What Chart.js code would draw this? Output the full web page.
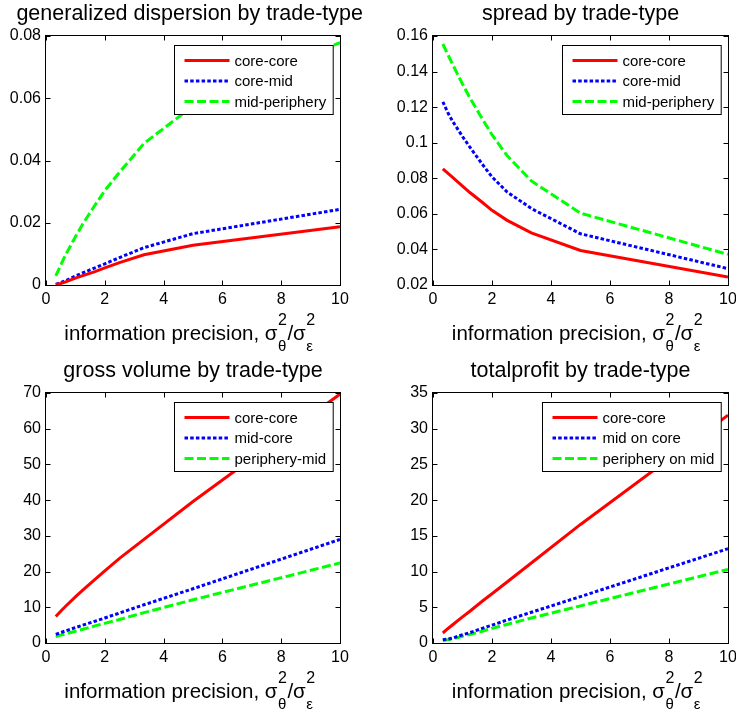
<!DOCTYPE html>
<html><head><meta charset="utf-8">
<script src="https://cdn.jsdelivr.net/npm/chart.js@4"></script>
<style>
html,body{margin:0;padding:0;background:#fff;}
#wrap{position:relative;width:736px;height:719px;overflow:hidden;}
canvas{position:absolute;}
</style></head><body>
<div id="wrap">
<canvas id="c1" width="368" height="360" style="left:0;top:0"></canvas>
<canvas id="c2" width="368" height="360" style="left:368px;top:0"></canvas>
<canvas id="c3" width="368" height="359" style="left:0;top:360px"></canvas>
<canvas id="c4" width="368" height="359" style="left:368px;top:360px"></canvas>
</div>
<script>
// ---- data ----
const xValues = [0.333, 0.5, 0.667, 1, 1.25, 1.667, 2, 2.5, 3.333, 5, 10];
const xTicks = [0, 2, 4, 6, 8, 10];

const dispersionTitle = 'generalized dispersion by trade-type';
const dispersionLabels = ['core-core', 'core-mid', 'mid-periphery'];
const dispCoreCore = [0.0001, 0.0005, 0.0010, 0.0022, 0.0030, 0.0043, 0.0055, 0.0072, 0.0097, 0.0128, 0.0187];
const dispCoreMid = [0.0002, 0.0008, 0.0014, 0.0029, 0.0039, 0.0055, 0.0068, 0.0088, 0.0120, 0.0165, 0.0243];
const dispMidPeriphery = [0.0029, 0.0064, 0.0097, 0.0155, 0.0196, 0.0257, 0.0303, 0.0362, 0.0455, 0.0575, 0.0779];
const dispTicks = [0, 0.02, 0.04, 0.06, 0.08];

const spreadTitle = 'spread by trade-type';
const spreadLabels = ['core-core', 'core-mid', 'mid-periphery'];
const spreadCoreCore = [0.0853, 0.0829, 0.0805, 0.0756, 0.0720, 0.0665, 0.0620, 0.0565, 0.0493, 0.0394, 0.0245];
const spreadCoreMid = [0.1230, 0.1170, 0.1120, 0.1035, 0.0975, 0.0880, 0.0808, 0.0725, 0.0630, 0.0488, 0.0292];
const spreadMidPeriphery = [0.1555, 0.1497, 0.1440, 0.1330, 0.1252, 0.1135, 0.1045, 0.0930, 0.0785, 0.0604, 0.0372];
const spreadTicks = [0.02, 0.04, 0.06, 0.08, 0.1, 0.12, 0.14, 0.16];

const volumeTitle = 'gross volume by trade-type';
const volumeLabels = ['core-core', 'mid-core', 'periphery-mid'];
const volCoreCore = [7.4, 8.9, 10.3, 12.9, 14.8, 17.8, 20.2, 23.7, 29.0, 39.6, 69.7];
const volMidCore = [2.4, 2.9, 3.4, 4.3, 5.0, 6.1, 7.0, 8.4, 10.7, 15.2, 29.0];
const volPeripheryMid = [1.8, 2.2, 2.55, 3.3, 3.85, 4.8, 5.5, 6.6, 8.5, 12.1, 22.4];
const volumeTicks = [0, 10, 20, 30, 40, 50, 60, 70];

const profitTitle = 'totalprofit by trade-type';
const profitLabels = ['core-core', 'mid on core', 'periphery on mid'];
const profCoreCore = [1.4, 2.0, 2.55, 3.65, 4.45, 5.85, 6.9, 8.5, 11.2, 16.6, 31.9];
const profMidCore = [0.45, 0.55, 0.7, 1.15, 1.45, 2.05, 2.5, 3.2, 4.3, 6.5, 13.2];
const profPeripheryMid = [0.35, 0.45, 0.58, 0.95, 1.2, 1.65, 2.05, 2.6, 3.5, 5.2, 10.3];
const profitTicks = [0, 5, 10, 15, 20, 25, 30, 35];

// ---- styling ----
const FONT = '"Liberation Sans", Arial, Helvetica, sans-serif';
const seriesStyles = [
  { color: '#ff0000', dash: [] },
  { color: '#0000ff', dash: [3.5, 2.2] },
  { color: '#00ff00', dash: [9, 3.5] }
];

function fmt(v) { return String(parseFloat(Number(v).toFixed(6))); }

const decorPlugin = {
  id: 'matlabDecor',
  afterDraw(chart) {
    const o = chart.options.plugins.matlabDecor;
    const ctx = chart.ctx, a = chart.chartArea;
    const xs = chart.scales.x, ys = chart.scales.y;
    ctx.save();
    // frame
    ctx.setLineDash([]);
    ctx.strokeStyle = '#000';
    ctx.lineWidth = 1;
    const L = Math.floor(a.left) - 0.5, R = Math.round(a.right) + 0.5;
    const T = Math.floor(a.top) - 0.5, B = Math.round(a.bottom) + 0.5;
    ctx.strokeRect(L, T, R - L, B - T);
    // inward ticks
    ctx.beginPath();
    xs.ticks.forEach(t => {
      const px = Math.round(xs.getPixelForValue(t.value)) + 0.5;
      ctx.moveTo(px, B); ctx.lineTo(px, B - 5);
      ctx.moveTo(px, T); ctx.lineTo(px, T + 5);
    });
    ys.ticks.forEach(t => {
      const py = Math.round(ys.getPixelForValue(t.value)) + 0.5;
      ctx.moveTo(L, py); ctx.lineTo(L + 5, py);
      ctx.moveTo(R, py); ctx.lineTo(R - 5, py);
    });
    ctx.stroke();

    // legend
    const ds = chart.data.datasets;
    ctx.font = '15px ' + FONT;
    const tw = Math.max(...ds.map(d => ctx.measureText(d.label).width));
    const bw = 10 + 45 + 5 + tw + 7;
    const bh = 69;
    const bx = Math.round(a.right - 7 - bw) + 0.5;
    const by = Math.round(a.top + 8.5) + 0.5;
    ctx.fillStyle = '#fff';
    ctx.fillRect(bx, by, bw, bh);
    ctx.strokeStyle = '#000';
    ctx.lineWidth = 1;
    ctx.strokeRect(bx, by, bw, bh);
    ds.forEach((d, i) => {
      const cy = by + 15 + i * 20.5;
      ctx.beginPath();
      ctx.strokeStyle = d.borderColor;
      ctx.lineWidth = d.borderWidth;
      ctx.setLineDash(d.borderDash || []);
      ctx.moveTo(bx + 10, cy);
      ctx.lineTo(bx + 55, cy);
      ctx.stroke();
      ctx.setLineDash([]);
      ctx.fillStyle = '#000';
      ctx.textAlign = 'left';
      ctx.textBaseline = 'middle';
      ctx.fillText(d.label, bx + 60, cy + 1);
    });

    // title
    const W = chart.width;
    ctx.fillStyle = '#000';
    ctx.font = '21.5px ' + FONT;
    ctx.textAlign = 'center';
    ctx.textBaseline = 'alphabetic';
    const title = o.title;
    const tW = ctx.measureText(title).width;
    let cx = (a.left + a.right) / 2;
    cx = Math.min(cx, W - 5 - tW / 2);
    cx = Math.max(cx, tW / 2);
    ctx.fillText(title, cx, a.top - 16);

    // x-axis label with super/subscripts
    const mainF = '20.5px ' + FONT, supF = '16px ' + FONT, subF = '15px ' + FONT;
    const parts = [
      { t: 'information precision, \u03c3', f: mainF },
      { sup: '2', sub: '\u03b8' },
      { t: '/\u03c3', f: mainF },
      { sup: '2', sub: '\u03b5' }
    ];
    let total = 0;
    parts.forEach(p => {
      if (p.t) { ctx.font = p.f; p.w = ctx.measureText(p.t).width; }
      else {
        ctx.font = supF; const w1 = ctx.measureText(p.sup).width;
        ctx.font = subF; const w2 = ctx.measureText(p.sub).width;
        p.w = Math.max(w1, w2) + 1;
      }
      total += p.w;
    });
    let x = (a.left + a.right) / 2 - total / 2 - 3;
    const base = a.bottom + 55;
    ctx.textAlign = 'left';
    parts.forEach(p => {
      if (p.t) { ctx.font = p.f; ctx.fillText(p.t, x, base); }
      else {
        ctx.font = supF; ctx.fillText(p.sup, x + 0.5, base - 15);
        ctx.font = subF; ctx.fillText(p.sub, x + 0.5, base + 11);
      }
      x += p.w;
    });
    ctx.restore();
  }
};

function makeChart(id, title, labels, series, yTicks, yAxisWidth, padRight, padTop, xAxisHeight) {
  const datasets = series.map((vals, i) => ({
    label: labels[i],
    data: xValues.map((xv, j) => ({ x: xv, y: vals[j] })),
    borderColor: seriesStyles[i].color,
    backgroundColor: seriesStyles[i].color,
    borderDash: seriesStyles[i].dash,
    borderWidth: 3,
    pointRadius: 0,
    tension: 0,
    fill: false
  }));
  const yMin = yTicks[0], yMax = yTicks[yTicks.length - 1];
  return new Chart(document.getElementById(id), {
    type: 'line',
    data: { datasets },
    plugins: [decorPlugin],
    options: {
      responsive: false,
      animation: false,
      events: [],
      layout: { padding: { left: 0, right: padRight, top: padTop, bottom: 0 } },
      plugins: {
        legend: { display: false },
        title: { display: false },
        tooltip: { enabled: false },
        matlabDecor: { title }
      },
      scales: {
        x: {
          type: 'linear', min: 0, max: 10,
          afterBuildTicks: s => { s.ticks = xTicks.map(v => ({ value: v })); },
          ticks: { font: { size: 16, family: FONT }, color: '#000', padding: 5, maxRotation: 0, autoSkip: false, callback: fmt },
          grid: { display: false, drawTicks: false },
          border: { display: false },
          afterFit: s => { s.height = xAxisHeight; s.paddingLeft = 0; s.paddingRight = 0; }
        },
        y: {
          type: 'linear', min: yMin, max: yMax,
          afterBuildTicks: s => { s.ticks = yTicks.map(v => ({ value: v })); },
          ticks: { font: { size: 16, family: FONT }, color: '#000', padding: 5, autoSkip: false, callback: fmt },
          grid: { display: false, drawTicks: false },
          border: { display: false },
          afterFit: s => { s.width = yAxisWidth; s.paddingTop = 0; s.paddingBottom = 0; }
        }
      }
    }
  });
}

makeChart('c1', dispersionTitle, dispersionLabels, [dispCoreCore, dispCoreMid, dispMidPeriphery], dispTicks, 46, 28, 36, 75);
makeChart('c2', spreadTitle, spreadLabels, [spreadCoreCore, spreadCoreMid, spreadMidPeriphery], spreadTicks, 65, 8, 36, 75);
makeChart('c3', volumeTitle, volumeLabels, [volCoreCore, volMidCore, volPeripheryMid], volumeTicks, 46, 28, 33, 76);
makeChart('c4', profitTitle, profitLabels, [profCoreCore, profMidCore, profPeripheryMid], profitTicks, 65, 8, 33, 76);
</script>
</body></html>
